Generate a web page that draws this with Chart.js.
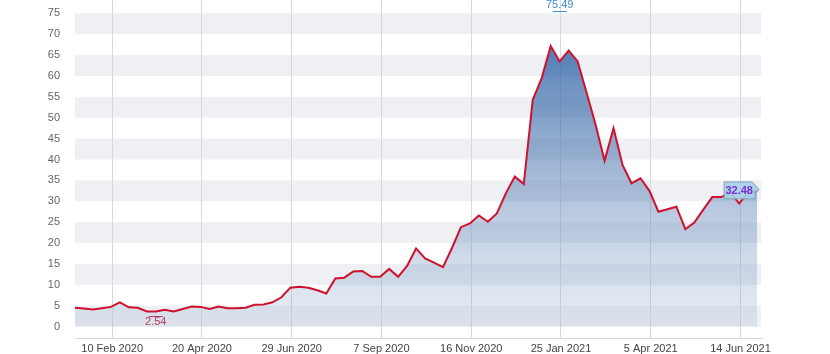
<!DOCTYPE html>
<html>
<head>
<meta charset="utf-8">
<script src="https://cdn.jsdelivr.net/npm/chart.js@4.4.1/dist/chart.umd.min.js"></script>
<style>
  html, body { margin: 0; padding: 0; background: #fff; }
  #wrap { width: 830px; height: 354px; }
</style>
</head>
<body>
<div id="wrap"><canvas id="chart" width="830" height="354"></canvas></div>
<script>
// weekly closes, first week ending 12 Jan 2020
const startDate = '2020-01-12';
const weeklyValues = [
  4.5, 4.3, 4.1, 4.4, 4.7, 5.8, 4.6, 4.5, 3.6, 3.6,
  4.0, 3.6, 4.2, 4.8, 4.7, 4.2, 4.8, 4.4, 4.4, 4.5,
  5.2, 5.3, 5.8, 7.0, 9.3, 9.5, 9.3, 8.7, 7.9, 11.5,
  11.7, 13.2, 13.3, 11.9, 11.9, 13.8, 11.9, 14.5, 18.7, 16.3,
  15.3, 14.2, 18.8, 23.8, 24.7, 26.6, 25.1, 27.1, 31.9, 35.9,
  34.1, 54.3, 59.5, 67.2, 63.5, 66.1, 63.5, 56.0, 48.3, 39.7,
  47.5, 38.7, 34.3, 35.5, 32.5, 27.5, 28.1, 28.7, 23.3, 24.9,
  28.0, 31.0, 31.0, 32.1, 29.5, 32.1, 32.48
];

const xTickDates = ['2020-02-10', '2020-04-20', '2020-06-29', '2020-09-07', '2020-11-16', '2021-01-25', '2021-04-05', '2021-06-14'];
const xTickLabels = ['10 Feb 2020', '20 Apr 2020', '29 Jun 2020', '7 Sep 2020', '16 Nov 2020', '25 Jan 2021', '5 Apr 2021', '14 Jun 2021'];
const yTickValues = [0, 5, 10, 15, 20, 25, 30, 35, 40, 45, 50, 55, 60, 65, 70, 75];
const bandRanges = [[0, 5], [10, 15], [20, 25], [30, 35], [40, 45], [50, 55], [60, 65], [70, 75]];

const highMark = { week: 54, value: 75.49, text: '75.49' };
const lowMark = { week: 9, value: 2.54, text: '2.54' };
const lastText = '32.48';

const DAY = 86400000;
const dayOf = s => (Date.parse(s) - Date.parse(startDate)) / DAY;
const points = weeklyValues.map((v, i) => ({ x: i * 7, y: v }));
const xTickDays = xTickDates.map(dayOf);

Chart.defaults.font.family = "'Liberation Sans', Arial, sans-serif";
Chart.defaults.font.size = 11;
Chart.defaults.color = '#666';

const bandsPlugin = {
  id: 'bands',
  beforeDraw(chart) {
    const { ctx, chartArea, scales: { y } } = chart;
    ctx.save();
    ctx.fillStyle = '#eef0f3';
    bandRanges.forEach(([lo, hi]) => {
      const top = y.getPixelForValue(hi);
      const bottom = y.getPixelForValue(lo);
      ctx.fillRect(chartArea.left, top, chartArea.right - chartArea.left, bottom - top);
    });
    ctx.restore();
  }
};

function drawMark(ctx, x, y, mark, color, textAbove) {
  ctx.strokeStyle = color;
  ctx.lineWidth = 1;
  ctx.beginPath();
  ctx.moveTo(x - 7, Math.round(y) + 0.5);
  ctx.lineTo(x + 7, Math.round(y) + 0.5);
  ctx.stroke();
  ctx.fillStyle = color;
  ctx.textAlign = 'center';
  ctx.textBaseline = 'middle';
  ctx.fillText(mark.text, x, textAbove ? y - 6 : y + 6);
}

const marksPlugin = {
  id: 'marks',
  afterDatasetsDraw(chart) {
    const { ctx, scales: { x, y } } = chart;
    ctx.save();
    ctx.font = "11px 'Liberation Sans', Arial, sans-serif";

    drawMark(ctx, x.getPixelForValue(highMark.week * 7), y.getPixelForValue(highMark.value), highMark, '#3f8fcf', true);
    drawMark(ctx, x.getPixelForValue(lowMark.week * 7), y.getPixelForValue(lowMark.value), lowMark, '#b8405e', false);

    // last value callout
    const last = points[points.length - 1];
    const px = x.getPixelForValue(last.x);
    const py = y.getPixelForValue(last.y);
    const r = px - 1, l = r - 32, t = py - 9, b = py + 8;
    ctx.beginPath();
    ctx.moveTo(l, t);
    ctx.lineTo(r - 4, t);
    ctx.lineTo(px + 2, py - 1);
    ctx.lineTo(r - 1, py + 1);
    ctx.lineTo(r - 1, b);
    ctx.lineTo(l, b);
    ctx.closePath();
    ctx.fillStyle = 'rgba(165,210,232,0.9)';
    ctx.fill();
    ctx.strokeStyle = '#7f9fb4';
    ctx.lineWidth = 1;
    ctx.stroke();
    ctx.fillStyle = '#7a30d6';
    ctx.font = "bold 11px 'Liberation Sans', Arial, sans-serif";
    ctx.textAlign = 'center';
    ctx.textBaseline = 'middle';
    ctx.fillText(lastText, (l + r) / 2 - 1, py);
    ctx.restore();
  }
};

const canvas = document.getElementById('chart');
new Chart(canvas.getContext('2d'), {
  type: 'line',
  data: {
    datasets: [{
      data: points,
      borderColor: '#d0102c',
      borderWidth: 2,
      pointRadius: 0,
      tension: 0,
      fill: 'origin',
      backgroundColor: (c) => {
        const area = c.chart.chartArea;
        if (!area) return 'rgba(0,0,0,0)';
        const g = c.chart.ctx.createLinearGradient(0, area.top, 0, area.bottom);
        g.addColorStop(0, 'rgba(40,95,165,0.95)');
        g.addColorStop(0.5, 'rgba(85,125,180,0.55)');
        g.addColorStop(1, 'rgba(150,175,210,0.18)');
        return g;
      },
    }],
  },
  options: {
    responsive: false,
    animation: false,
    devicePixelRatio: 1,
    layout: { padding: { left: 0, right: 69, top: 0, bottom: 0 } },
    plugins: { legend: { display: false }, tooltip: { enabled: false } },
    scales: {
      x: {
        type: 'linear',
        min: 0,
        max: 535,
        afterBuildTicks: (s) => { s.ticks = xTickDays.map(v => ({ value: v })); },
        afterFit: (s) => { s.height = 16; s.paddingLeft = 0; s.paddingRight = 0; },
        ticks: {
          autoSkip: false,
          maxRotation: 0,
          padding: 4,
          color: '#444',
          callback: (v, i) => xTickLabels[i],
        },
        grid: { color: '#d8d8d8', drawTicks: false },
        border: { color: '#ccd6eb', width: 1 },
      },
      y: {
        min: -2.75,
        max: 78.2,
        afterBuildTicks: (s) => { s.ticks = yTickValues.map(v => ({ value: v })); },
        afterFit: (s) => { s.width = 75; s.paddingTop = 0; s.paddingBottom = 0; },
        ticks: { padding: 7, color: '#666' },
        grid: { display: false },
        border: { display: false },
      },
    },
  },
  plugins: [bandsPlugin, marksPlugin],
});
</script>
</body>
</html>
